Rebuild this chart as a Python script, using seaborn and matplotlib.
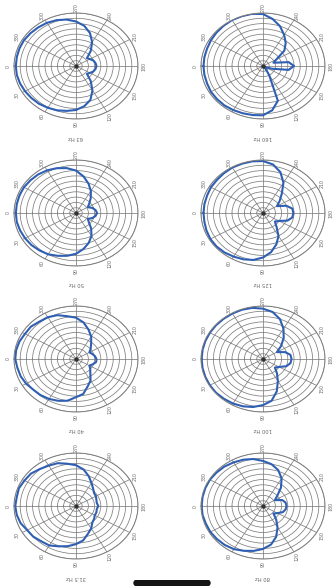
import numpy as np
import pandas as pd
import matplotlib
matplotlib.use('Agg')
import matplotlib.pyplot as plt
from matplotlib.patches import FancyBboxPatch
import seaborn as sns

# angulos cada 10 grados, 0 = frente (izquierda)
angulos = np.arange(0, 360, 10)

# nivel relativo (1.0 = anillo exterior)
r_63 = [.97, .97, .96, .95, .94, .93, .91, .89, .86, .83, .77, .68, .53, .37, .23, .26, .3, .32,
        .33, .32, .3, .26, .23, .37, .52, .66, .77, .84, .89, .92, .94, .95, .96, .97, .97, .97]
r_160 = [.96, .96, .96, .97, .97, .97, .96, .95, .94, .93, .85, .7, .2, .06, .03, .04, .15, .42,
         .5, .42, .18, .25, .45, .57, .68, .8, .9, .98, 1.0, 1.0, 1.0, .99, .98, .97, .96, .96]
r_50 = [.97, .97, .96, .95, .94, .92, .9, .86, .82, .77, .69, .6, .5, .38, .27, .22, .28, .32,
        .34, .32, .28, .22, .28, .37, .48, .59, .7, .8, .86, .9, .93, .95, .96, .97, .97, .97]
r_125 = [.96, .96, .97, .98, .98, .97, .95, .93, .9, .84, .75, .63, .5, .34, .25, .3, .42, .48,
         .49, .48, .4, .26, .35, .47, .66, .82, .93, .98, .99, .99, .99, .98, .97, .97, .96, .96]
r_40 = [.98, .96, .95, .93, .9, .89, .87, .84, .8, .72, .67, .55, .47, .36, .3, .25, .29, .33,
        .33, .31, .28, .25, .31, .38, .49, .59, .7, .78, .82, .88, .91, .92, .95, .95, .97, .98]
r_100 = [.99, .99, .99, .99, .99, .98, .97, .95, .92, .87, .8, .65, .48, .35, .25, .3, .4, .45,
         .46, .45, .38, .26, .38, .52, .66, .8, .9, .95, .98, .99, .99, .99, .99, .99, .99, .99]
r_31 = [.98, .97, .95, .91, .9, .87, .86, .81, .77, .72, .66, .56, .49, .41, .38, .35, .35, .34,
        .36, .34, .35, .37, .38, .43, .5, .6, .7, .77, .81, .86, .88, .91, .95, .96, .98, .97]
r_80 = [.99, .99, .98, .98, .97, .96, .94, .9, .86, .81, .74, .62, .47, .33, .22, .27, .34, .37,
        .38, .37, .33, .22, .3, .45, .6, .72, .8, .85, .9, .93, .95, .97, .98, .99, .99, .99]

etiquetas = ['63 Hz', '160 Hz', '50 Hz', '125 Hz', '40 Hz', '100 Hz', '31.5 Hz', '80 Hz']
curvas = [r_63, r_160, r_50, r_125, r_40, r_100, r_31, r_80]
grados = list(range(0, 360, 30))

# centros de cada grafica en pixeles (col, fila)
centros_x = [76, 263]
centros_y = [66, 213, 359, 506]

W, H = 334, 586
RX, RY = 62, 53

sns.set_style('white')
fig = plt.figure(figsize=(W / 100, H / 100), dpi=100)

gris = '#7d7d7d'
azul = '#2f5fb3'

for i, (nombre, r) in enumerate(zip(etiquetas, curvas)):
    cx = centros_x[i % 2]
    cy = centros_y[i // 2]
    ax = fig.add_axes([(cx - RX) / W, 1 - (cy + RY) / H, 2 * RX / W, 2 * RY / H],
                      projection='polar')
    ax.set_aspect('auto')
    ax.set_theta_zero_location('W')
    ax.set_theta_direction(1)

    df = pd.DataFrame({'theta': np.deg2rad(np.append(angulos, angulos[0] + 360)),
                       'r': np.append(r, r[0])})
    sns.lineplot(data=df, x='theta', y='r', sort=False, ax=ax,
                 color=azul, linewidth=1.5, estimator=None)

    ax.set_ylim(0, 1)
    ax.set_rgrids(np.arange(0.1, 1.01, 0.1), labels=[])
    ax.set_thetagrids(grados, labels=[])
    ax.grid(True, color=gris, linewidth=0.55)
    ax.spines['polar'].set_color(gris)
    ax.spines['polar'].set_linewidth(0.7)
    ax.plot([0], [0], 'o', color='#333333', markersize=2.2)
    ax.set_xlabel('')
    ax.set_ylabel('')

    # etiquetas de angulo giradas como en la hoja
    for g in grados:
        ax.text(np.deg2rad(g), 1.1, str(g), rotation=90, ha='center', va='center',
                fontsize=3.4, color='#6a6a6a', clip_on=False)

    ax.text(0.5, 0.5 - 71 / (2 * RY), nombre, transform=ax.transAxes, rotation=180,
            ha='center', va='center', fontsize=3.8, color='#666666')

# objeto negro abajo de la pagina
fig.patches.append(FancyBboxPatch((133 / W, 0), 78 / W, 6 / H, boxstyle='round,pad=0,rounding_size=0.008',
                                  transform=fig.transFigure, facecolor='#151515', edgecolor='none'))

fig.savefig('out.png', dpi=100)
